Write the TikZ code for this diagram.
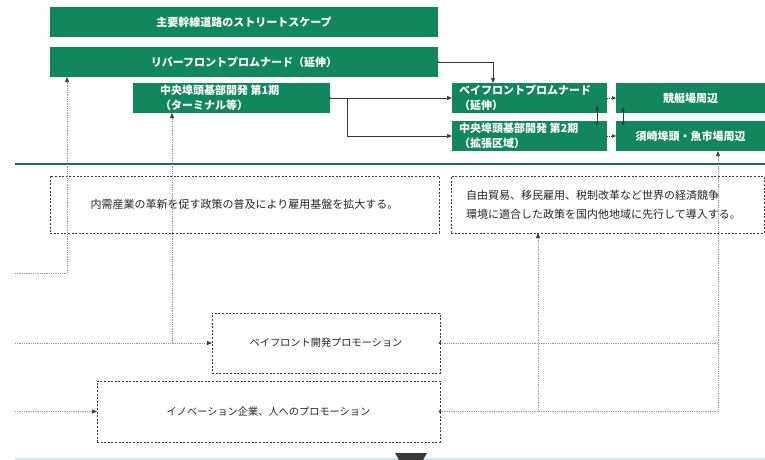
\documentclass[tikz,border=0pt]{standalone}
\usepackage{fontspec}
\setmainfont{Noto Sans CJK JP}
\usetikzlibrary{arrows.meta,calc}
\definecolor{gr}{HTML}{12875E}
\definecolor{bl}{HTML}{1E5E7A}
\definecolor{dk}{HTML}{3A3A3A}
\definecolor{lc}{HTML}{C8ECF0}
\begin{document}
\begin{tikzpicture}[x=1pt,y=-1pt,
 gbox/.style={fill=gr,inner sep=0pt,outer sep=0pt,anchor=north west},
 gtext/.style={text=white,inner sep=0pt,font=\fontsize{11}{14.5}\selectfont\bfseries},
 dbox/.style={draw=dk,dash pattern=on 2pt off 1.6pt,line width=0.8pt,inner sep=0pt,outer sep=0pt,anchor=north west},
 dtext/.style={text=black!85,inner sep=0pt,font=\fontsize{10.2}{19}\selectfont},
 dtextb/.style={dtext,font=\fontsize{11}{19}\selectfont},
 link/.style={draw=dk,line width=0.6pt,-{Triangle[length=5pt,width=4pt]}},
 dlink/.style={draw=gray!80,line width=0.7pt,dash pattern=on 1pt off 0.8pt},
 darrow/.style={dlink,-{Triangle[length=5pt,width=4pt,color=dk]}}]
\useasboundingbox (0,0) rectangle (765,460);
\fill[white] (0,0) rectangle (765,460);

% green boxes
\node[gbox,minimum width=388pt,minimum height=30pt] (A) at (50,7) {};
\node[gtext] (At) at (A.center) {主要幹線道路のストリートスケープ};
\node[gbox,minimum width=388pt,minimum height=30pt] (B) at (50,47) {};
\node[gtext] (Bt) at (B.center) {リバーフロントプロムナード（延伸）};
\node[gbox,minimum width=197pt,minimum height=30pt] (C) at (133,83) {};
\node[gtext,anchor=west,align=left] (Ct) at ($(C.west)+(27,0)$) {中央埠頭基部開発 第1期\\（ターミナル等）};
\node[gbox,minimum width=155pt,minimum height=30pt] (D) at (452,83) {};
\node[gtext,anchor=west,align=left] (Dt) at ($(D.west)+(7,0)$) {ベイフロントプロムナード\\（延伸）};
\node[gbox,minimum width=155pt,minimum height=30pt] (E) at (452,121) {};
\node[gtext,anchor=west,align=left] (Et) at ($(E.west)+(7,0)$) {中央埠頭基部開発 第2期\\（拡張区域）};
\node[gbox,minimum width=149pt,minimum height=30pt] (F) at (616,83) {};
\node[gtext] (Ft) at (F.center) {競艇場周辺};
\node[gbox,minimum width=149pt,minimum height=30pt] (G) at (616,121) {};
\node[gtext] (Gt) at (G.center) {須崎埠頭・魚市場周辺};

% separator lines
\draw[bl,line width=1.4pt] (15,164) -- (765,164);
\fill[lc] (15,457.5) rectangle (765,460);
\fill[dk] (395,453) -- (427,453) -- (423,460) -- (399,460) -- cycle;

% dashed boxes
\node[dbox,minimum width=389pt,minimum height=57pt] (H) at (50,176) {};
\node[dtextb] (Ht) at (H.center) {内需産業の革新を促す政策の普及により雇用基盤を拡大する。};
\node[dbox,minimum width=313pt,minimum height=57pt] (I) at (451,176) {};
\node[dtextb,anchor=west,align=left] (It) at ($(I.west)+(15,0)$) {自由貿易、移民雇用、税制改革など世界の経済競争\\環境に適合した政策を国内他地域に先行して導入する。};
\node[dbox,minimum width=228pt,minimum height=60pt] (J) at (212,313) {};
\node[dtext] (Jt) at (J.center) {ベイフロント開発プロモーション};
\node[dbox,minimum width=343pt,minimum height=61pt] (K) at (97,381) {};
\node[dtext] (Kt) at (K.center) {イノベーション企業、人へのプロモーション};

% solid connectors
\fill[dk] (B.east) circle (1pt);
\draw[link] (B.east) -| ($(D.north west)+(41,0)$);
\fill[dk] (C.east) circle (1pt);
\draw[link] (C.east) -- (D.west);
\coordinate (c1) at ($(C.east)+(17,0)$);
\draw[link] (c1) |- (E.west);
\draw[link,-{Triangle[length=4pt,width=3.5pt]},dash pattern=on 1.2pt off 1pt] (D.east) -- (F.west);
\draw[link,-{Triangle[length=4pt,width=3.5pt]},dash pattern=on 1.2pt off 1pt] (E.east) -- (G.west);
\draw[link,{Triangle[length=4pt,width=3.5pt]}-{Triangle[length=4pt,width=3.5pt]}] ($(D.south east)+(-10,-7)$) -- ($(E.north east)+(-10,5)$);
\draw[link,{Triangle[length=4pt,width=3.5pt]}-{Triangle[length=4pt,width=3.5pt]}] ($(F.south west)+(7,-6)$) -- ($(G.north west)+(7,5)$);

% dotted connectors
\coordinate (l0) at (15,0);
\coordinate (l1) at (15,273);
\coordinate (b1) at ($(B.south west)+(17,0)$);
\draw[darrow] (l1) -| (b1);
\draw[darrow] (J.west -| l0) -- (J.west);
\coordinate (c2) at ($(C.south west)+(39,0)$);
\draw[darrow] (c2 |- J.west) -- (c2);
\draw[darrow] (K.west -| l0) -- (K.west);
\coordinate (r1) at (718,0);
\coordinate (r2) at (538,0);
\draw[dlink] (J.east) -- (J.east -| r1);
\draw[dlink] (K.east) -- (K.east -| r1);
\draw[darrow] (K.east -| r1) -- (G.south -| r1);
\draw[darrow] (K.east -| r2) -- (I.south -| r2);
\fill[dk] (J.east) circle (1.4pt);
\fill[dk] (K.east) circle (1.4pt);
\end{tikzpicture}
\end{document}
